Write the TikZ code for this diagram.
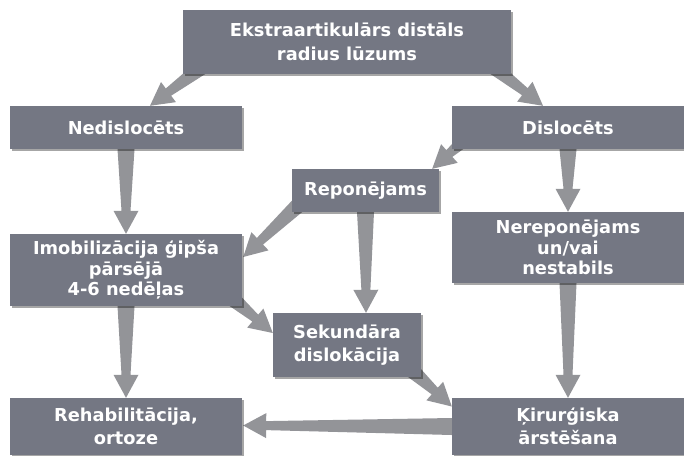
\documentclass[tikz,border=0pt]{standalone}
\usepackage{fontspec}
\setmainfont{DejaVu Sans}
\usetikzlibrary{calc,shadows}

\definecolor{boxgrey}{RGB}{116,119,131}
\definecolor{arrowgrey}{RGB}{147,148,152}

\tikzset{
  box/.style={fill=boxgrey, text=white, align=center, inner sep=0pt,
    font=\bfseries\fontsize{17.8}{23.5}\selectfont,
    drop shadow={shadow xshift=2pt, shadow yshift=-2pt, opacity=.35, fill=black}},
  boxtight/.style={box, font=\bfseries\fontsize{17.8}{20.5}\selectfont},
}

% tapered arrow from #1 to #2
\newcommand{\fatarrow}[2]{%
  \path #1 coordinate (fa-s) #2 coordinate (fa-e);
  \coordinate (fa-h) at ($(fa-e)!23pt!(fa-s)$);
  \fill[arrowgrey] ($(fa-s)!8.5pt!90:(fa-e)$) -- ($(fa-h)!4.5pt!-90:(fa-s)$)
    -- ($(fa-h)!12.5pt!-90:(fa-s)$) -- (fa-e) -- ($(fa-h)!12.5pt!90:(fa-s)$)
    -- ($(fa-h)!4.5pt!90:(fa-s)$) -- ($(fa-s)!8.5pt!-90:(fa-e)$) -- cycle;
}

\begin{document}
\begin{tikzpicture}[x=1pt, y=-1pt]
 \useasboundingbox (0,0) rectangle (684,455);

 % boxes (coordinates in pixels of the reference)
 \path (347,42) coordinate (c-top)   (126,127.5) coordinate (c-nedis)
       (568,127.5) coordinate (c-dis) (365.5,190.5) coordinate (c-repo)
       (126,270) coordinate (c-imob)  (568,247.5) coordinate (c-nerepo)
       (347,345) coordinate (c-sek)   (126,426.5) coordinate (c-rehab)
       (568,426.5) coordinate (c-kir);

 \node[minimum width=328pt, minimum height=64pt] (top) at (c-top) {};
 \node[minimum width=232pt, minimum height=43pt] (nedis) at (c-nedis) {};
 \node[minimum width=232pt, minimum height=43pt] (dis) at (c-dis) {};
 \node[minimum width=147pt, minimum height=43pt] (repo) at (c-repo) {};
 \node[minimum width=232pt, minimum height=72pt] (imob) at (c-imob) {};
 \node[minimum width=232pt, minimum height=71pt] (nerepo) at (c-nerepo) {};
 \node[minimum width=148pt, minimum height=64pt] (sek) at (c-sek) {};
 \node[minimum width=232pt, minimum height=57pt] (rehab) at (c-rehab) {};
 \node[minimum width=232pt, minimum height=57pt] (kir) at (c-kir) {};

 % arrows
 \foreach \src/\dst in {
   {($(top.south west)+(30,-15)$)/($(nedis.north)+(24,0)$)},
   {($(top.south east)+(-32,-18)$)/($(dis.north)+(-25,0)$)},
   {(nedis.south)/(imob.north)},
   {(dis.south)/(nerepo.north)},
   {($(dis.south west)+(26,-21)$)/($(repo.north east)+(-7,0)$)},
   {($(repo.south west)+(15,-15)$)/($(imob.east)+(1,-13)$)},
   {(repo.south)/($(sek.north)+(19,0)$)},
   {($(imob.south east)+(-15,-12)$)/($(sek.west)+(0,-12)$)},
   {($(sek.south east)+(-15,-12)$)/($(kir.west)+(0,-20)$)},
   {(kir.west)/($(rehab.east)+(1,-1)$)},
   {(imob.south)/(rehab.north)},
   {(nerepo.south)/(kir.north)}}
   \fatarrow{\src}{\dst};

 % boxes on top of the arrows
 \node[box, minimum width=328pt, minimum height=64pt] at (top) {Ekstraartikulārs distāls\\radius lūzums};
 \node[box, minimum width=232pt, minimum height=43pt] at (nedis) {Nedislocēts};
 \node[box, minimum width=232pt, minimum height=43pt] at (dis) {Dislocēts};
 \node[box, minimum width=147pt, minimum height=43pt] at (repo) {Reponējams};
 \node[boxtight, minimum width=232pt, minimum height=72pt] at (imob) {Imobilizācija ģipša\\pārsējā\\4-6 nedēļas};
 \node[boxtight, minimum width=232pt, minimum height=71pt] at (nerepo) {Nereponējams\\un/vai\\nestabils};
 \node[box, minimum width=148pt, minimum height=64pt] at (sek) {Sekundāra\\dislokācija};
 \node[box, minimum width=232pt, minimum height=57pt] at (rehab) {Rehabilitācija,\\ortoze};
 \node[box, minimum width=232pt, minimum height=57pt] at (kir) {Ķirurģiska\\ārstēšana};
\end{tikzpicture}
\end{document}
